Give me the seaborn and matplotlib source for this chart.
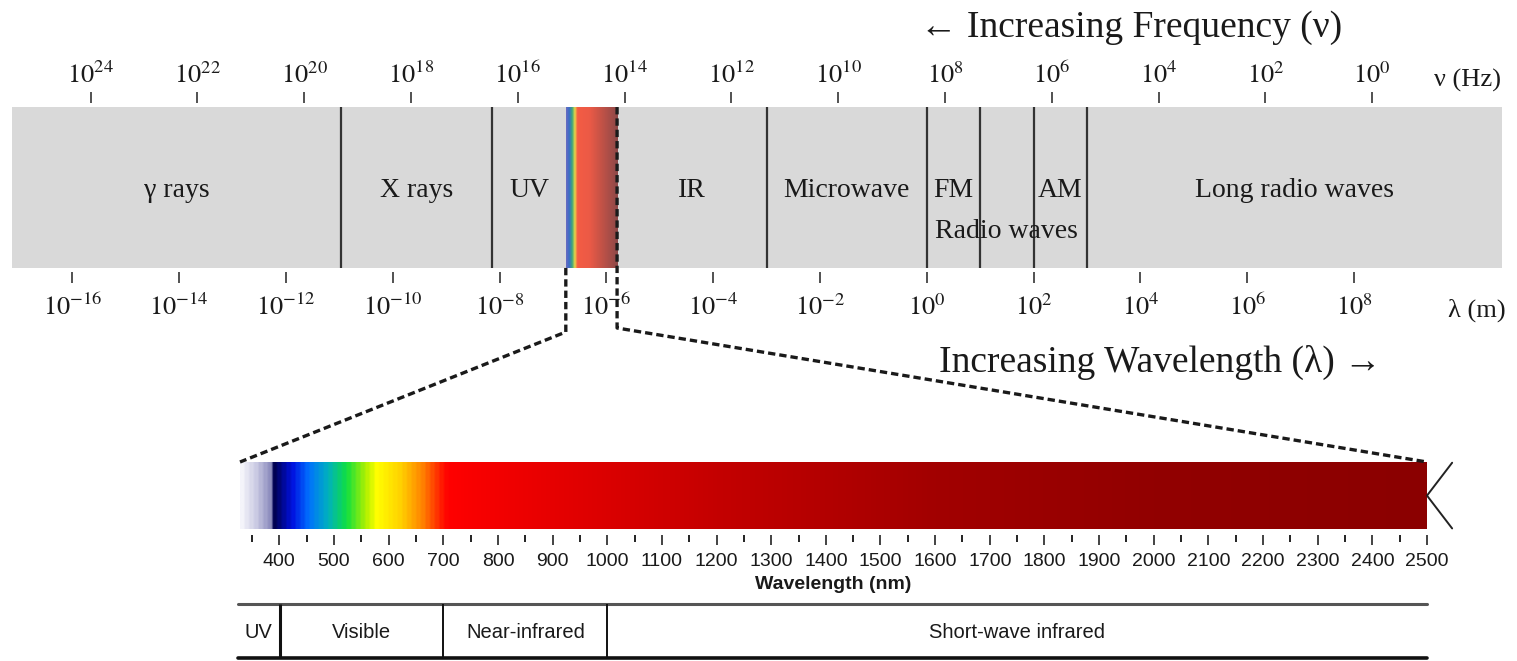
import numpy as np
import matplotlib.pyplot as plt
import seaborn as sns
from matplotlib.colors import LinearSegmentedColormap

# ---- data -------------------------------------------------------------
# upper band: positions are log10(wavelength / m)
wl_exp = [-16, -14, -12, -10, -8, -6, -4, -2, 0, 2, 4, 6, 8]
freq_exp = [24, 22, 20, 18, 16, 14, 12, 10, 8, 6, 4, 2, 0]
nu_offset = 8.34  # log10(lambda) = nu_offset - log10(nu), as drawn in the figure

band_names = ['γ rays', 'X rays', 'UV', 'IR', 'Microwave', 'FM', 'AM', 'Long radio waves']
band_lo = [-17.13, -10.97, -8.14, -5.80, -3.0, 0.0, 2.0, 3.0]
band_hi = [-10.97, -8.14, -6.76, -3.0, 0.0, 1.0, 3.0, 10.77]
dividers = [-10.97, -8.14, -3.0, 0.0, 1.0, 2.0, 3.0]
visible_range = [-6.76, -5.80]
radio_range = [0.0, 3.0]

# lower strip: wavelength in nm
strip_range = [328, 2500]
nm_major = [400, 500, 600, 700, 800, 900, 1000, 1100, 1200, 1300, 1400,
            1500, 1600, 1700, 1800, 1900, 2000, 2100, 2200, 2300, 2400, 2500]
nm_minor = [350, 450, 550, 650, 750, 850, 950, 1050, 1150, 1250, 1350, 1450,
            1550, 1650, 1750, 1850, 1950, 2050, 2150, 2250, 2350, 2450]
regions = ['UV', 'Visible', 'Near-infrared', 'Short-wave infrared']
region_edges = [324, 400, 700, 1000, 2500]

# colour anchors of the spectra
top_stops = [0.0, 0.06, 0.12, 0.17, 0.22, 0.45, 1.0]
top_colors = ['#6b6bc0', '#3a6cc8', '#40a878', '#e8d848', '#f45c44', '#ec5a46', '#8c4848']
spec_nm = [328, 355, 381, 383, 420, 450, 485, 520, 555, 575, 620, 660, 695,
           705, 900, 1200, 1600, 2000, 2500]
spec_colors = ['#f4f4fa', '#c8c8e2', '#8a8abc', '#000040', '#0010e0', '#0070ff',
               '#00b0c0', '#10e040', '#b0f000', '#ffff00', '#ffd000', '#ff8000',
               '#ff1800', '#ff0000', '#e60000', '#c40000', '#a20000', '#920000',
               '#8b0000']

# ---- style --------------------------------------------------------------
sns.set_theme(style="ticks")
plt.rcParams['font.family'] = ['Liberation Serif', 'DejaVu Serif']
plt.rcParams['mathtext.fontset'] = 'stix'
sans = ['Liberation Sans', 'DejaVu Sans']
ink = '#1a1a1a'

W, H = 1517, 661
fig = plt.figure(figsize=(W / 100, H / 100), dpi=100, facecolor='white')


def frame(x0, y0, x1, y1):
    return [x0 / W, 1 - y1 / H, (x1 - x0) / W, (y1 - y0) / H]


grad = np.linspace(0, 1, 512)[None, :]

# ---- upper band ---------------------------------------------------------
ax = fig.add_axes(frame(12, 103, 1502, 272))
ax.patch.set_alpha(0)
ax.axhspan(0.024, 0.976, color='#d9d9d9', lw=0, zorder=0)
top_cmap = LinearSegmentedColormap.from_list('vis', list(zip(top_stops, top_colors)))
ax.imshow(grad, cmap=top_cmap, aspect='auto', interpolation='bilinear',
          extent=(visible_range[0], visible_range[1], 0.024, 0.976), zorder=1)
ax.vlines(dividers, 0.024, 0.976, color='#333333', lw=1.6, zorder=2)
ax.set_xlim(band_lo[0], band_hi[-1])
ax.set_ylim(0, 1)

for name, lo, hi in zip(band_names, band_lo, band_hi):
    ax.text((lo + hi) / 2, 0.48, name, ha='center', va='center', fontsize=20, color=ink)
ax.text(np.mean(radio_range), 0.24, 'Radio waves', ha='center', va='center',
        fontsize=20, color=ink)

ax.set_xticks(wl_exp, [rf'$10^{{{e}}}$' for e in wl_exp])
ax.set_yticks([])
ax.tick_params(axis='x', direction='out', length=8, width=1.1, color='#222222',
               pad=8, labelsize=19, labelcolor=ink, bottom=True, top=False)
sns.despine(ax=ax, left=True, bottom=True)

sec = ax.secondary_xaxis('top', functions=(lambda x: nu_offset - x,
                                           lambda x: nu_offset - x))
sec.set_xticks(freq_exp, [rf'$10^{{{e}}}$' for e in freq_exp])
sec.tick_params(direction='out', length=8, width=1.1, color='#222222',
                pad=3, labelsize=19, labelcolor=ink)
for s in sec.spines.values():
    s.set_visible(False)

# ---- zoomed strip -------------------------------------------------------
ax2 = fig.add_axes(frame(240, 462, 1427, 535))
ax2.patch.set_alpha(0)
pos = [(v - strip_range[0]) / (strip_range[1] - strip_range[0]) for v in spec_nm]
nm_cmap = LinearSegmentedColormap.from_list('nm', list(zip(pos, spec_colors)))
ax2.imshow(grad, cmap=nm_cmap, aspect='auto', interpolation='bilinear',
           extent=(strip_range[0], strip_range[1], 0.08, 1.0))
ax2.set_xlim(*strip_range)
ax2.set_ylim(0, 1)
ax2.set_xticks(nm_major, [str(v) for v in nm_major], fontfamily=sans)
ax2.set_xticks(nm_minor, minor=True)
ax2.set_yticks([])
ax2.tick_params(axis='x', which='major', length=7, width=1.2, color='#222222',
                pad=6, labelsize=14, labelcolor=ink)
ax2.tick_params(axis='x', which='minor', length=5, width=1.4, color='#222222')
ax2.set_xlabel('Wavelength (nm)', fontweight='bold', fontsize=14,
               fontfamily=sans, labelpad=4, color=ink)
sns.despine(ax=ax2, left=True, bottom=True)
# "<" mark at the right end of the strip
ax2.plot([2546, 2500, 2546], [0.99, 0.54, 0.09], color='#222222', lw=1.4,
         clip_on=False)

# ---- region table -------------------------------------------------------
ax3 = fig.add_axes(frame(238, 604, 1427, 658))
ax3.patch.set_alpha(0)
ax3.set_xlim(region_edges[0], region_edges[-1])
ax3.set_ylim(0, 1)
ax3.axhline(1, color='#555555', lw=2.2, clip_on=False)
ax3.axhline(0, color='#111111', lw=2.6, clip_on=False)
ax3.vlines(region_edges[1:2], 0, 1, color='#111111', lw=2.2)
ax3.vlines(region_edges[2:-1], 0, 1, color='#111111', lw=1.4)
for name, lo, hi in zip(regions, region_edges[:-1], region_edges[1:]):
    ax3.text((lo + hi) / 2, 0.48, name, ha='center', va='center', fontsize=14.5,
             fontfamily=sans, color=ink)
ax3.set_xticks([])
ax3.set_yticks([])
sns.despine(ax=ax3, left=True, bottom=True)

# ---- overlay: connectors and headings ---------------------------------
ov = fig.add_axes([0, 0, 1, 1])
ov.set_xlim(0, W)
ov.set_ylim(H, 0)
ov.axis('off')
ov.patch.set_alpha(0)


def px(a, x, y):
    return ov.transData.inverted().transform(a.transData.transform((x, y)))


dash = dict(color='#1a1a1a', lw=2.4, ls=(0, (2.2, 1.2)), solid_capstyle='butt')
l0 = px(ax, visible_range[0], 0.024)
l2 = px(ax2, strip_range[0], 1.0)
ov.plot([l0[0], l0[0], l2[0]], [l0[1], 332, l2[1]], **dash)
r0 = px(ax, visible_range[1], 0.976)
r2 = px(ax2, strip_range[1], 1.0)
ov.plot([r0[0], r0[0], r2[0]], [r0[1], 328, r2[1]], **dash)

ov.text(1131, 28, '← Increasing Frequency (ν)', ha='center', va='center',
        fontsize=27, color=ink)
ov.text(1160, 362, 'Increasing Wavelength (λ) →', ha='center', va='center',
        fontsize=27, color=ink)
ov.text(1468, 80, 'ν (Hz)', ha='center', va='center', fontsize=19, color=ink)
ov.text(1477, 310, 'λ (m)', ha='center', va='center', fontsize=19, color=ink)

fig.savefig('out.png', dpi=100, facecolor='white')
